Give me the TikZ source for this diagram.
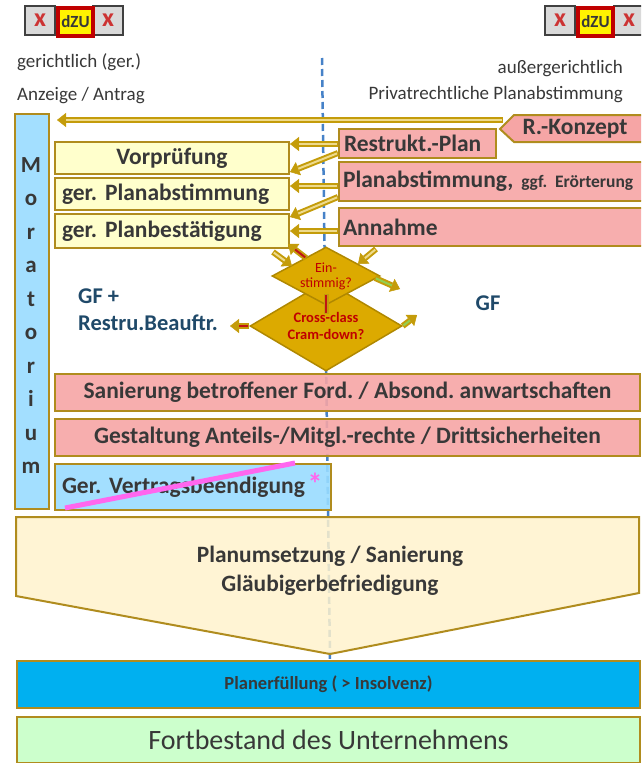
\documentclass[tikz,border=0pt]{standalone}
\usepackage{fontspec}
\setmainfont{Carlito}
\usetikzlibrary{arrows.meta,shapes.geometric}
\frenchspacing
\definecolor{bord}{RGB}{176,140,30}
\definecolor{agold}{RGB}{196,156,10}
\definecolor{apale}{RGB}{238,218,140}
\definecolor{pnk}{RGB}{246,165,165}
\definecolor{ylw}{RGB}{255,255,204}
\definecolor{lblue}{RGB}{153,220,255}
\definecolor{cream}{RGB}{255,242,204}
\definecolor{bblue}{RGB}{0,176,240}
\definecolor{lgreen}{RGB}{204,255,204}
\definecolor{dgold}{RGB}{220,170,0}
\definecolor{dbord}{RGB}{176,136,0}
\definecolor{txt}{RGB}{56,56,56}
\definecolor{gftxt}{RGB}{31,73,105}
\definecolor{redtxt}{RGB}{192,0,0}
\definecolor{dashc}{RGB}{70,130,200}
\definecolor{magc}{RGB}{255,102,238}
\definecolor{xgray}{RGB}{217,217,217}
\definecolor{xdark}{RGB}{64,64,64}
\definecolor{xred}{RGB}{204,51,51}
\definecolor{ared}{RGB}{192,20,20}
\definecolor{agreen}{RGB}{146,208,80}
\newcommand{\fatarrow}[3]{%
  \draw[arw] #1 -- #2;
  \draw[arwin=#3] #1 -- #2;}
\begin{document}
\frenchspacing
\begin{tikzpicture}[x=1pt,y=-1pt,
  bx/.style={draw=bord, line width=2pt, inner sep=0pt, anchor=north west, text=txt,
    font=\fontsize{23.5}{27}\selectfont\bfseries},
  ybox/.style={bx, fill=ylw},
  pbox/.style={bx, fill=pnk, fill opacity=0.9, text opacity=1},
  lbbox/.style={bx, fill=lblue, fill opacity=0.9, text opacity=1},
  xbox/.style={draw=xdark, line width=2pt, fill=xgray, anchor=north west, inner sep=0pt,
    minimum width=30pt, minimum height=29pt, text=xred, font=\fontsize{26}{26}\selectfont\bfseries},
  zbox/.style={draw=redtxt, line width=4pt, fill=yellow, anchor=north west, inner sep=0pt,
    minimum width=35pt, minimum height=28pt, text=txt, font=\fontsize{17}{17}\selectfont\bfseries},
  htxt/.style={inner sep=0pt, text=txt, font=\fontsize{19}{22}\selectfont},
  btxt/.style={inner sep=0pt, text=txt, font=\fontsize{23.5}{27}\selectfont\bfseries},
  dia/.style={shape=diamond, draw=dbord, fill=dgold, line width=1.5pt, inner sep=0pt,
    align=center, text=redtxt},
  arw/.style={line width=6pt, draw=agold, -{Triangle[length=9pt,width=14pt,line width=0.5pt]}},
  arwin/.style={line width=2pt, draw=#1, shorten >=9pt, shorten <=1pt},
]
\useasboundingbox (0,0) rectangle (641,763);
\clip (0,0) rectangle (641,763);

% header icons
\node[xbox] (xl1) at (24,5) {x};
\node[xbox] (xl2) at (92,5) {x};
\node[zbox] (zl) at (56,5.5) {dZU};
\node[xbox] (xr1) at (544,5) {x};
\node[xbox] (xr2) at (613,5) {x};
\node[zbox] (zr) at (576,5.5) {dZU};

% header texts
\node[htxt, anchor=base west] (g1) at (17,67.5) {gerichtlich (ger.)};
\node[htxt, anchor=base west] (g2) at (17,100) {Anzeige / Antrag};
\node[htxt, anchor=base east] (a1) at (623,73) {außergerichtlich};
\node[htxt, anchor=base east] (a2) at (623,99) {Privatrechtliche Planabstimmung};

% dashed divider
\coordinate (dtop) at (322,58);
\coordinate (dbot) at (330,660);
\draw[dashc, line width=2.5pt, dash pattern=on 7pt off 4pt] (dtop) -- (dbot);

% Moratorium
\node[lbbox, minimum width=34pt, minimum height=395pt] (mor) at (14,113) {};
\node[font=\fontsize{23}{33.5}\selectfont\bfseries, text=txt, align=center, anchor=north, inner sep=0pt]
  (morl) at (31,157) {M\\o\\r\\a\\t\\o\\r\\i\\u\\m};

% R.-Konzept
\draw[draw=bord, line width=2pt, fill=pnk] (500,129) -- (514,115) -- (645,115) -- (645,142) -- (514,142) -- cycle;
\coordinate (rkp) at (500,129);
\node[btxt] (rk) at (575,129) {R.-Konzept};

% yellow boxes
\node[ybox, minimum width=234pt, minimum height=32pt] (vor) at (54,141) {Vorprüfung};
\node[ybox, minimum width=234pt, minimum height=32pt, text width=220pt, inner xsep=7pt, align=left] (gpa) at (54,177) {ger. Planabstimmung};
\node[ybox, minimum width=234pt, minimum height=34pt, text width=220pt, inner xsep=7pt, align=left] (gpb) at (54,213) {ger. Planbestätigung};

% pink boxes right
\node[pbox, minimum width=157pt, minimum height=29pt, text width=147pt, inner xsep=5pt, align=left] (rp) at (338,128) {Restrukt.-Plan};
\node[pbox, minimum width=310pt, minimum height=39pt, text width=302pt, inner xsep=4pt, align=left] (pa) at (338,161) {Planabstimmung, {\fontsize{17.5}{20}\selectfont ggf. Erörterung}};
\node[pbox, minimum width=310pt, minimum height=38pt, text width=302pt, inner xsep=4pt, align=left] (an) at (338,207) {Annahme};

% arrows
\coordinate (t1) at (503,120); \coordinate (t2) at (57,120);
\fatarrow{(t1)}{(t2)}{apale}
\coordinate (r1) at (338,144); \coordinate (v1) at (290,144);
\fatarrow{(r1)}{(v1)}{apale}
\coordinate (r2) at (338,153); \coordinate (v2) at (290,172);
\fatarrow{(r2)}{(v2)}{apale}
\coordinate (p1) at (338,186); \coordinate (v3) at (290,186);
\fatarrow{(p1)}{(v3)}{apale}
\coordinate (p2) at (338,197); \coordinate (v4) at (290,217);
\fatarrow{(p2)}{(v4)}{apale}
\coordinate (n1) at (338,231); \coordinate (v5) at (290,231);
\fatarrow{(n1)}{(v5)}{apale}

% diamonds
\node[dia, aspect=1.7, minimum width=152pt, minimum height=90pt,
  font=\fontsize{14.5}{17}\selectfont\bfseries] (d2) at (326,326) {Cross-class\\Cram-down?};
\node[dia, aspect=1.86, minimum width=108pt, minimum height=58pt,
  font=\fontsize{14}{15}\selectfont] (d1) at (326,276) {Ein-\\stimmig?};

% arrows around diamonds
\coordinate (k1) at (273,252); \coordinate (k2) at (292,266);
\fatarrow{(k1)}{(k2)}{apale}
\coordinate (k3) at (376,249); \coordinate (k4) at (358,264);
\fatarrow{(k3)}{(k4)}{apale}
\coordinate (k5) at (306,258); \coordinate (k6) at (288,244);
\fatarrow{(k5)}{(k6)}{ared}
\draw[line width=5pt, agold] (d1.south) ++(0,-12) -- ++(0,20);
\draw[line width=2pt, ared] (d1.south) ++(0,-11) -- ++(0,18);
\coordinate (k7) at (375,278); \coordinate (k8) at (400,289);
\fatarrow{(k7)}{(k8)}{agreen}
\fatarrow{(d2.east)}{(417,315)}{agreen}
\fatarrow{(d2.west)}{(230,326)}{ared}

% GF labels
\node[btxt, text=gftxt, align=left, anchor=west, font=\fontsize{22.5}{27}\selectfont\bfseries] (gfl) at (78,310) {GF +\\Restru.Beauftr.};
\node[btxt, text=gftxt, font=\fontsize{22.5}{27}\selectfont\bfseries] (gfr) at (488,303) {GF};

% lower boxes
\node[pbox, minimum width=585pt, minimum height=37pt] (san) at (54,373) {Sanierung betroffener Ford. / Absond. anwartschaften};
\node[pbox, minimum width=585pt, minimum height=37pt] (ges) at (54,418) {Gestaltung Anteils-/Mitgl.-rechte / Drittsicherheiten};
\node[lbbox, minimum width=276pt, minimum height=46pt, text width=262pt, inner xsep=7pt, align=left] (gvb) at (54,463) {Ger. Vertragsbeendigung};
\coordinate (m1) at (65,508); \coordinate (m2) at (295,463);
\draw[magc, line width=5pt] (m1) -- (m2);
\node[inner sep=0pt, text=magc, font=\fontsize{30}{30}\selectfont\bfseries] (ast) at (315,484) {*};

% Planumsetzung chevron
\draw[draw=bord, line width=2pt, fill=cream, fill opacity=0.85] (16,517) -- (639,517) -- (639,593) -- (330,654) -- (16,596) -- cycle;
\node[btxt, align=center, font=\fontsize{23.4}{29}\selectfont\bfseries] (pu) at (330,571) {Planumsetzung / Sanierung\\Gläubigerbefriedigung};

% bottom boxes
\node[bx, fill=bblue, minimum width=623pt, minimum height=47pt, font=\fontsize{18.5}{20}\selectfont\bfseries] (pe) at (16,660) {Planerfüllung ( > Insolvenz)};
\node[bx, fill=lgreen, minimum width=623pt, minimum height=46pt, font=\fontsize{28}{30}\selectfont] (fb) at (16,716) {Fortbestand des Unternehmens};
\end{tikzpicture}
\end{document}
